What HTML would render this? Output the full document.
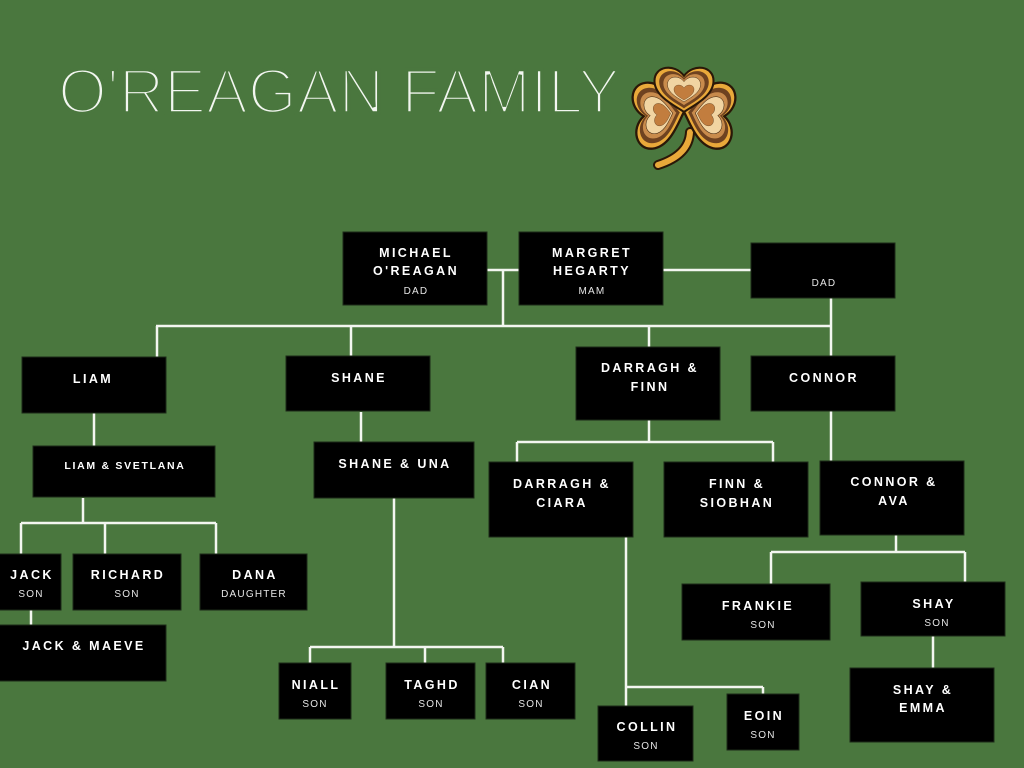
<!DOCTYPE html>
<html><head><meta charset="utf-8"><style>
html,body{margin:0;padding:0;}
body{width:1024px;height:768px;background:#4a773e;overflow:hidden;position:relative;}
svg{position:absolute;left:0;top:0;}
.n{font-family:"Liberation Sans",Arial,sans-serif;font-weight:bold;font-size:12.5px;letter-spacing:2.4px;fill:#fff;text-anchor:middle;}
.s{font-family:"Liberation Sans",Arial,sans-serif;font-size:10px;letter-spacing:1.2px;fill:#e6e6e6;text-anchor:middle;}
.sm{font-family:"Liberation Sans",Arial,sans-serif;font-weight:bold;font-size:10.5px;letter-spacing:1.7px;fill:#fff;text-anchor:middle;}
</style></head><body>
<svg width="1024" height="768" viewBox="0 0 1024 768" xmlns="http://www.w3.org/2000/svg">
<defs>
<path id="heart" d="M0,0 C-8,-6 -36,-18 -36,-38 C-36,-56 -12,-60 0,-44 C12,-60 36,-56 36,-38 C36,-18 8,-6 0,0 Z"/>
<g id="leaf">
<use href="#heart" fill="#e9a93a" stroke="#2a1808" stroke-width="2.5"/>
<use href="#heart" fill="#6e4220" transform="translate(0,-28) scale(0.84) translate(0,28)"/>
<use href="#heart" fill="#c88b4c" transform="translate(0,-28) scale(0.70) translate(0,28)"/>
<use href="#heart" fill="#f1d4a2" stroke="#3a220c" stroke-width="1" transform="translate(0,-28) scale(0.56) translate(0,28)"/>
<use href="#heart" fill="#c27d3e" stroke="#3a220c" stroke-width="1" transform="translate(0,-22) scale(0.34) translate(0,22)"/>
</g>
</defs>

<!-- title -->
<text x="58" y="113" textLength="562" lengthAdjust="spacingAndGlyphs" font-family="Liberation Sans, Arial, sans-serif" font-size="63" fill="#f2f6f0" stroke="#4a773e" stroke-width="3.6">O'REAGAN FAMILY</text>

<!-- shamrock -->
<path d="M690,132 Q689,155 658,165" fill="none" stroke="#2a1808" stroke-width="10" stroke-linecap="round"/>
<path d="M690,132 Q689,155 658,165" fill="none" stroke="#e9a93a" stroke-width="6" stroke-linecap="round"/>
<g transform="translate(684,112)">
<use href="#leaf" transform="rotate(-96) scale(0.92)"/>
<use href="#leaf" transform="rotate(96) scale(0.92)"/>
<use href="#leaf" transform="rotate(0) scale(0.82)"/>
</g>

<!-- connectors -->
<g stroke="#f3f6f0" stroke-width="2.5" fill="none">
<path d="M487,270 H519 M503,270 V326 M663,270 H751 M831,298 V356 M156,326 H831 M157,326 V357 M351,326 V356 M649,326 V347"/>
<path d="M94,413 V446 M83,498 V523 M21,523 H216 M21,523 V554 M105,523 V554 M216,523 V554 M31,610 V625"/>
<path d="M361,412 V442 M394,498 V647 M310,647 H503 M310,647 V663 M425,647 V663 M503,647 V663"/>
<path d="M649,420 V442 M517,442 H773 M517,442 V462 M773,442 V462 M831,411 V461"/>
<path d="M626,537 V706 M626,687 H763 M763,687 V694"/>
<path d="M896,535 V552 M771,552 H965 M771,552 V584 M965,552 V582 M933,636 V668"/>
</g>

<!-- boxes -->
<g fill="#000" stroke="#1c2a18" stroke-width="1">
<rect x="343" y="232" width="144" height="73"/>
<rect x="519" y="232" width="144" height="73"/>
<rect x="751" y="243" width="144" height="55"/>
<rect x="22" y="357" width="144" height="56"/>
<rect x="286" y="356" width="144" height="55"/>
<rect x="576" y="347" width="144" height="73"/>
<rect x="751" y="356" width="144" height="55"/>
<rect x="33" y="446" width="182" height="51"/>
<rect x="314" y="442" width="160" height="56"/>
<rect x="489" y="462" width="144" height="75"/>
<rect x="664" y="462" width="144" height="75"/>
<rect x="820" y="461" width="144" height="74"/>
<rect x="-2" y="554" width="63" height="56"/>
<rect x="73" y="554" width="108" height="56"/>
<rect x="200" y="554" width="107" height="56"/>
<rect x="-2" y="625" width="168" height="56"/>
<rect x="279" y="663" width="72" height="56"/>
<rect x="386" y="663" width="89" height="56"/>
<rect x="486" y="663" width="89" height="56"/>
<rect x="682" y="584" width="148" height="56"/>
<rect x="861" y="582" width="144" height="54"/>
<rect x="850" y="668" width="144" height="74"/>
<rect x="598" y="706" width="95" height="55"/>
<rect x="727" y="694" width="72" height="56"/>
</g>

<!-- labels -->
<text class="n" x="416" y="257">MICHAEL</text>
<text class="n" x="416" y="275">O'REAGAN</text>
<text class="s" x="416" y="294">DAD</text>
<text class="n" x="592" y="257">MARGRET</text>
<text class="n" x="592" y="275">HEGARTY</text>
<text class="s" x="592" y="294">MAM</text>
<text class="s" x="824" y="286">DAD</text>

<text class="n" x="93" y="383">LIAM</text>
<text class="n" x="359" y="382">SHANE</text>
<text class="n" x="650" y="372">DARRAGH &amp;</text>
<text class="n" x="650" y="391">FINN</text>
<text class="n" x="824" y="382">CONNOR</text>

<text class="sm" x="125" y="469">LIAM &amp; SVETLANA</text>
<text class="n" x="395" y="468">SHANE &amp; UNA</text>
<text class="n" x="562" y="488">DARRAGH &amp;</text>
<text class="n" x="562" y="507">CIARA</text>
<text class="n" x="737" y="488">FINN &amp;</text>
<text class="n" x="737" y="507">SIOBHAN</text>
<text class="n" x="894" y="486">CONNOR &amp;</text>
<text class="n" x="894" y="505">AVA</text>

<text class="n" x="32" y="579">JACK</text>
<text class="s" x="31" y="597">SON</text>
<text class="n" x="128" y="579">RICHARD</text>
<text class="s" x="127" y="597">SON</text>
<text class="n" x="255" y="579">DANA</text>
<text class="s" x="254" y="597">DAUGHTER</text>
<text class="n" x="84" y="650">JACK &amp; MAEVE</text>

<text class="n" x="316" y="689">NIALL</text>
<text class="s" x="315" y="707">SON</text>
<text class="n" x="432" y="689">TAGHD</text>
<text class="s" x="431" y="707">SON</text>
<text class="n" x="532" y="689">CIAN</text>
<text class="s" x="531" y="707">SON</text>

<text class="n" x="758" y="610">FRANKIE</text>
<text class="s" x="763" y="628">SON</text>
<text class="n" x="934" y="608">SHAY</text>
<text class="s" x="937" y="626">SON</text>
<text class="n" x="923" y="694">SHAY &amp;</text>
<text class="n" x="923" y="712">EMMA</text>

<text class="n" x="647" y="731">COLLIN</text>
<text class="s" x="646" y="749">SON</text>
<text class="n" x="764" y="720">EOIN</text>
<text class="s" x="763" y="738">SON</text>
</svg>
</body></html>
